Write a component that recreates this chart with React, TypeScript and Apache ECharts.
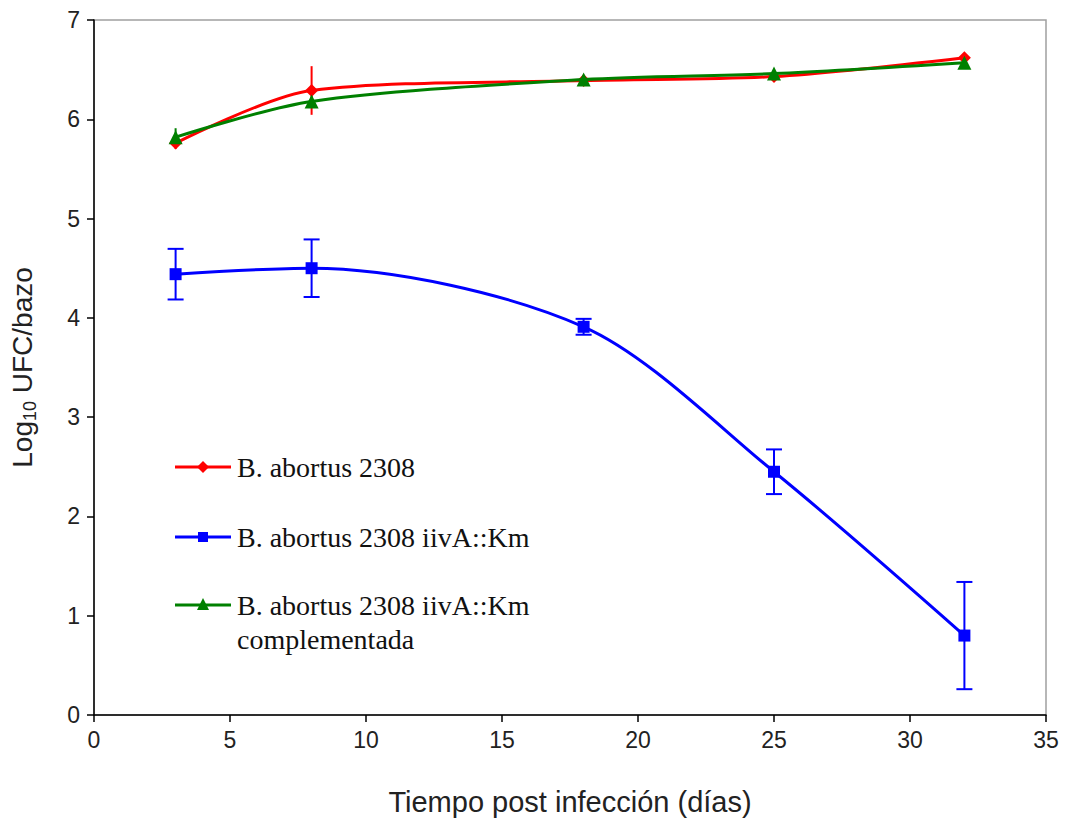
import React, { useEffect, useRef } from "react";
import * as echarts from "echarts";

const days = [3, 8, 18, 25, 32];
const wildType = [5.76, 6.29, 6.39, 6.43, 6.62];
const mutant = [4.44, 4.5, 3.91, 2.45, 0.8];
const complemented = [5.82, 6.18, 6.4, 6.46, 6.57];
const wildTypeErr = [0.06, 0.245, 0.03, 0.03, 0.04];
const mutantErr = [0.255, 0.29, 0.08, 0.225, 0.54];
const complementedErr = [0.09, 0.05, 0.03, 0.03, 0.03];

const seriesNames = [
  "B. abortus 2308",
  "B. abortus 2308 iivA::Km",
  "B. abortus 2308 iivA::Km complementada",
];
const legendLines = [
  "B. abortus 2308",
  "B. abortus 2308 iivA::Km",
  "B. abortus 2308 iivA::Km\ncomplementada",
];
const colors = ["#ff0000", "#0000ff", "#008000"];
const xTitle = "Tiempo post infección (días)";

function App() {
  const ref = useRef<HTMLDivElement>(null);
  useEffect(() => {
    if (!ref.current) return;
    const chart = echarts.init(ref.current, null, { renderer: "svg" });
    const values = [wildType, mutant, complemented];
    const errs = [wildTypeErr, mutantErr, complementedErr];
    const symbols = ["diamond", "rect", "triangle"];
    const sizes = [13, 12, 14];
    const capW = [0, 16, 0];
    const sans = "'Liberation Sans', Arial, sans-serif";

    const lineSeries = values.map((v, i) => ({
      type: "line",
      name: seriesNames[i],
      data: days.map((d, j) => [d, v[j]]),
      smooth: 0.3,
      symbol: symbols[i],
      symbolSize: sizes[i],
      showAllSymbol: true,
      lineStyle: { color: colors[i], width: 3 },
      itemStyle: { color: colors[i] },
      z: 3 + i,
    }));

    const errSeries = errs.map((e, i) => ({
      type: "custom",
      name: seriesNames[i] + " err",
      data: days.map((d, j) => [d, values[i][j] - e[j], values[i][j] + e[j]]),
      encode: { x: 0, y: [1, 2] },
      z: 2,
      renderItem: (params: any, api: any) => {
        const lo = api.coord([api.value(0), api.value(1)]);
        const hi = api.coord([api.value(0), api.value(2)]);
        const style = { stroke: colors[i], lineWidth: 2 };
        const children: any[] = [
          { type: "line", shape: { x1: lo[0], y1: lo[1], x2: hi[0], y2: hi[1] }, style },
        ];
        if (capW[i] > 0) {
          const h = capW[i] / 2;
          children.push({ type: "line", shape: { x1: lo[0] - h, y1: lo[1], x2: lo[0] + h, y2: lo[1] }, style });
          children.push({ type: "line", shape: { x1: hi[0] - h, y1: hi[1], x2: hi[0] + h, y2: hi[1] }, style });
        }
        return { type: "group", children };
      },
    }));

    const legendTops = [467, 537, 605];
    const legendGraphics: any[] = [];
    legendTops.forEach((y, i) => {
      legendGraphics.push({
        type: "line",
        shape: { x1: 175, y1: y, x2: 231, y2: y },
        style: { stroke: colors[i], lineWidth: 3 },
      });
      if (i === 0) {
        legendGraphics.push({
          type: "polygon",
          shape: { points: [[203, y - 6], [209, y], [203, y + 6], [197, y]] },
          style: { fill: colors[i] },
        });
      } else if (i === 1) {
        legendGraphics.push({
          type: "rect",
          shape: { x: 198, y: y - 5, width: 10, height: 10 },
          style: { fill: colors[i] },
        });
      } else {
        legendGraphics.push({
          type: "polygon",
          shape: { points: [[203, y - 7], [209, y + 5], [197, y + 5]] },
          style: { fill: colors[i] },
        });
      }
      legendGraphics.push({
        type: "text",
        x: 237,
        y: y - 17,
        style: {
          text: legendLines[i],
          font: "28px 'Liberation Serif', 'Times New Roman', serif",
          fill: "#111",
          lineHeight: 34,
          verticalAlign: "top",
        },
      });
    });

    chart.setOption({
      animation: false,
      backgroundColor: "#ffffff",
      grid: {
        left: 93,
        right: 25,
        top: 20,
        bottom: 106,
        show: true,
        borderColor: "#a0a0a0",
        borderWidth: 1.5,
      },
      xAxis: {
        type: "value",
        min: 0,
        max: 35,
        interval: 5,
        name: xTitle,
        nameLocation: "middle",
        nameGap: 72,
        nameTextStyle: { fontSize: 29, color: "#222", fontFamily: sans },
        axisLine: { show: true, lineStyle: { color: "#000", width: 1.5 } },
        axisTick: { show: true, length: 7, lineStyle: { color: "#000", width: 1.5 } },
        axisLabel: { fontSize: 23, color: "#222", margin: 13, fontFamily: sans },
        splitLine: { show: false },
      },
      yAxis: {
        type: "value",
        min: 0,
        max: 7,
        interval: 1,
        name: "{a|Log}{b|10}{a| UFC/bazo}",
        nameLocation: "middle",
        nameGap: 58,
        nameRotate: 90,
        nameTextStyle: {
          color: "#222",
          fontFamily: sans,
          rich: {
            a: { fontSize: 28, color: "#222", fontFamily: sans, verticalAlign: "bottom" },
            b: { fontSize: 18, color: "#222", fontFamily: sans, verticalAlign: "bottom", padding: [0, 0, -3, 0] },
          },
        },
        axisLine: { show: true, lineStyle: { color: "#000", width: 1.5 } },
        axisTick: { show: true, length: 7, lineStyle: { color: "#000", width: 1.5 } },
        axisLabel: { fontSize: 23, color: "#222", margin: 14, fontFamily: sans },
        splitLine: { show: false },
      },
      graphic: legendGraphics,
      series: [...errSeries, ...lineSeries],
    });
    return () => chart.dispose();
  }, []);
  return (
    <div
      ref={ref}
      style={{ position: "absolute", left: 0, top: 0, width: 1071, height: 821, background: "#fff" }}
    />
  );
}

export default App;
